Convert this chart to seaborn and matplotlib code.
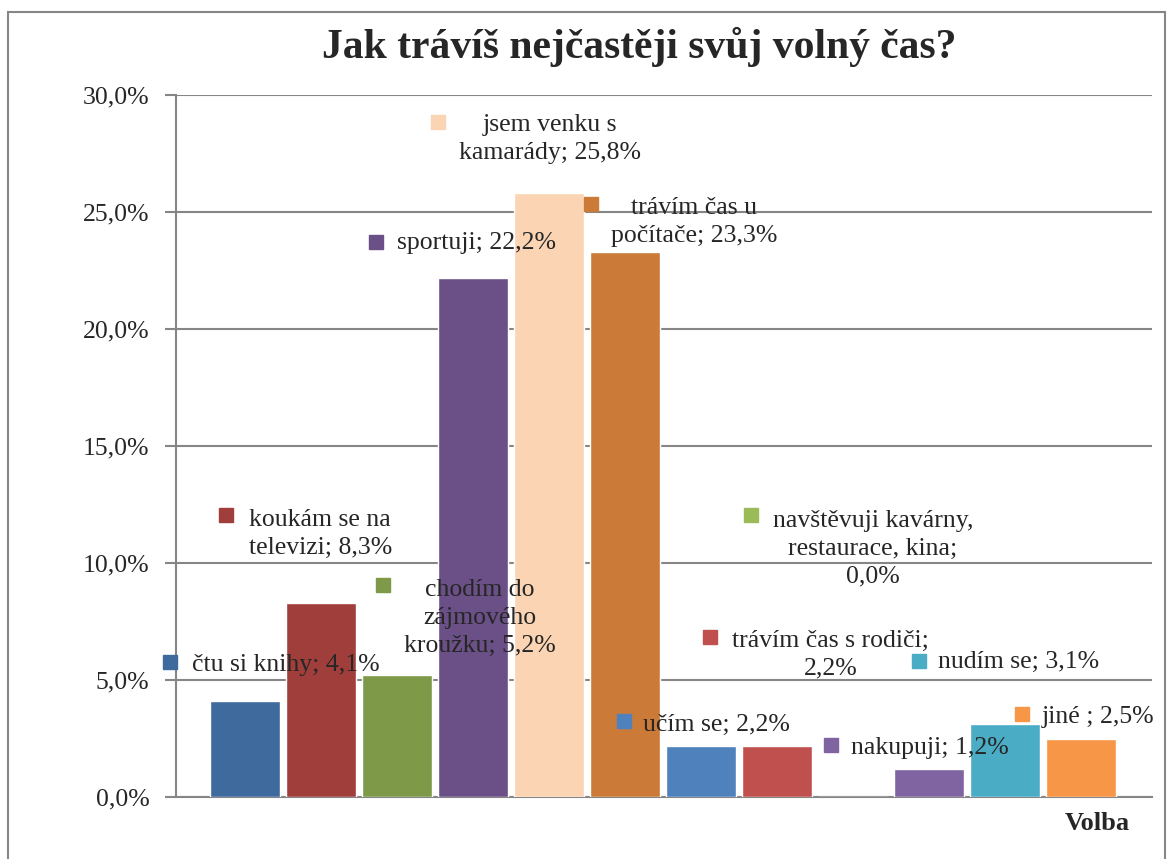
import numpy as np
import pandas as pd
import seaborn as sns
import matplotlib.pyplot as plt
from matplotlib.patches import Rectangle
from matplotlib.ticker import FuncFormatter

categories = ['čtu si knihy', 'koukám se na televizi', 'chodím do zájmového kroužku',
              'sportuji', 'jsem venku s kamarády', 'trávím čas u počítače',
              'učím se', 'trávím čas s rodiči', 'navštěvuji kavárny, restaurace, kina',
              'nakupuji', 'nudím se', 'jiné ']
values = [4.1, 8.3, 5.2, 22.2, 25.8, 23.3, 2.2, 2.2, 0.0, 1.2, 3.1, 2.5]
label_texts = ['čtu si knihy; 4,1%', 'koukám se na\ntelevizi; 8,3%',
               'chodím do\nzájmového\nkroužku; 5,2%', 'sportuji; 22,2%',
               'jsem venku s\nkamarády; 25,8%', 'trávím čas u\npočítače; 23,3%',
               'učím se; 2,2%', 'trávím čas s rodiči;\n2,2%',
               'navštěvuji kavárny,\nrestaurace, kina;\n0,0%', 'nakupuji; 1,2%',
               'nudím se; 3,1%', 'jiné ; 2,5%']
colors = ['#3F6A9E', '#A03E3C', '#7E9A48', '#6A5086', '#FAD4B3', '#CC7A38',
          '#4F81BD', '#C0504D', '#9BBB59', '#8064A2', '#4BACC6', '#F79646']

# label placement (text centre, legend key), in data units
text_pos = [(0.53, 5.64), (0.99, 11.24), (3.09, 7.65), (3.04, 23.68),
            (4.01, 28.12), (5.91, 24.57), (6.20, 3.08), (7.70, 6.07),
            (8.26, 10.60), (9.01, 2.09), (10.18, 5.77), (11.22, 3.42)]
key_pos = [(-0.99, 5.77), (-0.25, 12.05), (1.82, 9.06), (1.72, 23.72),
           (2.54, 28.85), (4.55, 25.34), (4.99, 3.25), (6.11, 6.84),
           (6.65, 12.05), (7.71, 2.22), (8.87, 5.81), (10.22, 3.55)]

df = pd.DataFrame({'cat': categories, 'val': values})

sns.set_style('white')
plt.rcParams['font.family'] = ['Liberation Serif', 'DejaVu Serif']

fig = plt.figure(figsize=(11.69, 8.59), dpi=100)
ax = fig.add_axes([176/1169, 62/859, (1152-176)/1169, (797-95)/859])

sns.barplot(data=df, x='cat', y='val', hue='cat', palette=colors, legend=False,
            width=0.92, saturation=1, ax=ax, zorder=3)

ax.set_xlim(-0.908, 11.93)
ax.set_ylim(0, 30)
ax.set_yticks(np.arange(0, 31, 5))
ax.yaxis.set_major_formatter(FuncFormatter(lambda v, p: f'{v:.1f}%'.replace('.', ',')))
ax.set_xticks([])
ax.set_xlabel('')
ax.set_ylabel('')
ax.grid(axis='y', color='#868686', linewidth=1.5, zorder=0)
ax.set_axisbelow(True)
for s in ['top', 'right']:
    ax.spines[s].set_visible(False)
for s in ['left', 'bottom']:
    ax.spines[s].set_color('#868686')
    ax.spines[s].set_linewidth(1.5)
ax.tick_params(axis='y', direction='out', length=8, width=1.5, color='#868686',
               labelsize=18.5, pad=11, left=True)

for i, txt in enumerate(label_texts):
    ax.text(text_pos[i][0], text_pos[i][1], txt, ha='center', va='center',
            fontsize=18.5, multialignment='center', linespacing=1.35, zorder=5)
    ax.plot(key_pos[i][0], key_pos[i][1], marker='s', markersize=10,
            color=colors[i], linestyle='none', clip_on=False, zorder=5)

fig.text(0.547, 0.945, 'Jak trávíš nejčastěji svůj volný čas?', ha='center', va='center',
         fontsize=30, fontweight='bold')
fig.text(1097/1169, 1 - 823/859, 'Volba', ha='center', va='center',
         fontsize=19, fontweight='bold')

fig.add_artist(Rectangle((8/1169, -0.01), (1165-8)/1169, (859-12)/859 + 0.01,
                         transform=fig.transFigure, fill=False,
                         edgecolor='#868686', linewidth=1.5))

fig.savefig('out.png', dpi=100)
